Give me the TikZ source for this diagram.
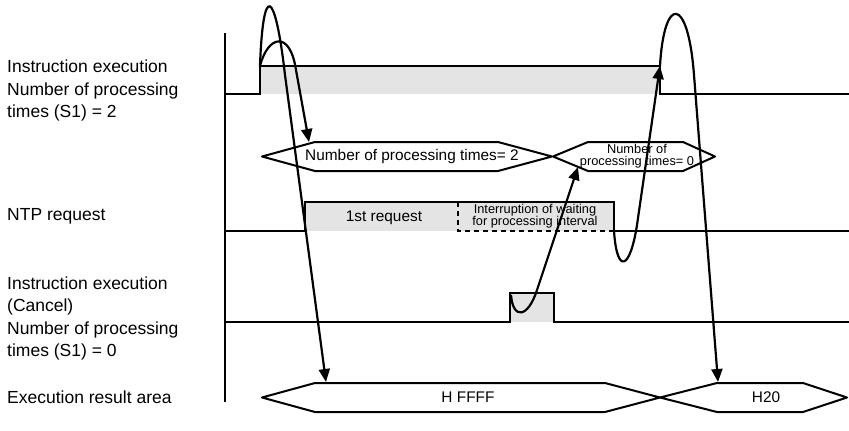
\documentclass[tikz,border=0pt]{standalone}
\usepackage{fontspec}
\setmainfont{Liberation Sans}
\usetikzlibrary{arrows.meta}
\definecolor{busygray}{HTML}{E4E4E4}

\begin{document}
\begin{tikzpicture}[
    x=1pt, y=-1pt,
    lbl/.style={anchor=west, align=left, inner sep=0pt,
                font=\fontsize{17.5}{22.5}\selectfont},
    sig/.style={line width=1.5pt, draw=black},
    busy/.style={fill=busygray},
    bus/.style={line width=2pt, draw=black, line join=round},
    bustext/.style={inner sep=0pt, font=\fontsize{15.4}{18}\selectfont},
    smalltext/.style={inner sep=0pt, align=center, font=\fontsize{12.8}{12.3}\selectfont},
    jump/.style={-{Triangle[length=13pt,width=11pt]}, line width=2.2pt}
]

\useasboundingbox (0,0) rectangle (849,431);

%% Row labels %%
\node[lbl] (lblexec)   at (7, 90.5)  {Instruction execution\\Number of processing\\times (S1) = 2};
\node[lbl] (lblntp)    at (7, 216)   {NTP request};
\node[lbl] (lblcancel) at (7, 318.5) {Instruction execution\\(Cancel)\\Number of processing\\times (S1) = 0};
\node[lbl] (lblresult) at (7, 397)   {Execution result area};

% time axis
\draw[line width=2pt] (225,33) -- (225,402);

%% Signals %%

% Instruction execution, S1 = 2
\fill[busy] (260,66) rectangle (660,94);
\draw[sig] (225,94) -- (260,94) -- (260,66) -- (660,66) -- (660,94) -- (849,94);
\coordinate (execup)   at (260,66);
\coordinate (execdown) at (660,66);

% processing count buses
\draw[bus] (262,156.5) -- (315,142) -- (498,142) -- (552,156.5) -- (498,171) -- (315,171) -- cycle;
\node[bustext] (cnttwo) at (412,156.5) {Number of processing times= 2};
\coordinate (cnttwoin) at (309,142);

\draw[bus] (553,156.5) -- (588,142) -- (683,142) -- (715,156.5) -- (683,171) -- (588,171) -- cycle;
\node[smalltext] (cntzero) at (637,156) {Number of\\processing times= 0};
\coordinate (cntzeroin) at (578,167);

% NTP request
\fill[busy] (305,202) rectangle (614,231);
\draw[sig] (225,231) -- (305,231) -- (305,202) -- (614,202) -- (614,231) -- (849,231);
\draw[sig, dash pattern=on 5pt off 4pt] (458,202) -- (458,231) -- (614,231);
\node[bustext]   (firstreq)  at (384,218) {1st request};
\node[smalltext] (interrupt) at (535,216) {Interruption of waiting\\for processing interval};
\coordinate (ntpdown) at (614,231);

% Instruction execution (Cancel)
\fill[busy] (510,293) rectangle (554,322);
\draw[sig] (225,322) -- (510,322) -- (510,293) -- (554,293) -- (554,322) -- (849,322);
\coordinate (cancelup) at (511,295);

% Execution result area
\draw[bus] (262,397.5) -- (315,383) -- (605,383) -- (660,397.5) -- (605,412) -- (315,412) -- cycle;
\node[bustext] (resffff) at (468,397.5) {H FFFF};
\coordinate (resffffin) at (326,382);

\draw[bus] (660,397.5) -- (717,383) -- (803,383) -- (847,397.5) -- (803,412) -- (717,412) -- cycle;
\node[bustext] (restwenty) at (766,397.5) {H20};
\coordinate (restwentyin) at (718,382);

%% Cause arrows %%
\draw[jump] (execup) .. controls (263,-18) and (275,-12) .. (285,75) -- (resffffin);
\draw[jump] (execup) .. controls (268,35) and (290,30) .. (296,70) -- (cnttwoin);
\draw[jump] (ntpdown) .. controls (617,275) and (630,270) .. (637,225) -- (execdown);
\draw[jump] (cancelup) .. controls (513,320) and (528,318) .. (537,290) -- (cntzeroin);
\draw[jump] (execdown) .. controls (664,-5) and (688,-5) .. (694,75) -- (restwentyin);

\end{tikzpicture}
\end{document}
